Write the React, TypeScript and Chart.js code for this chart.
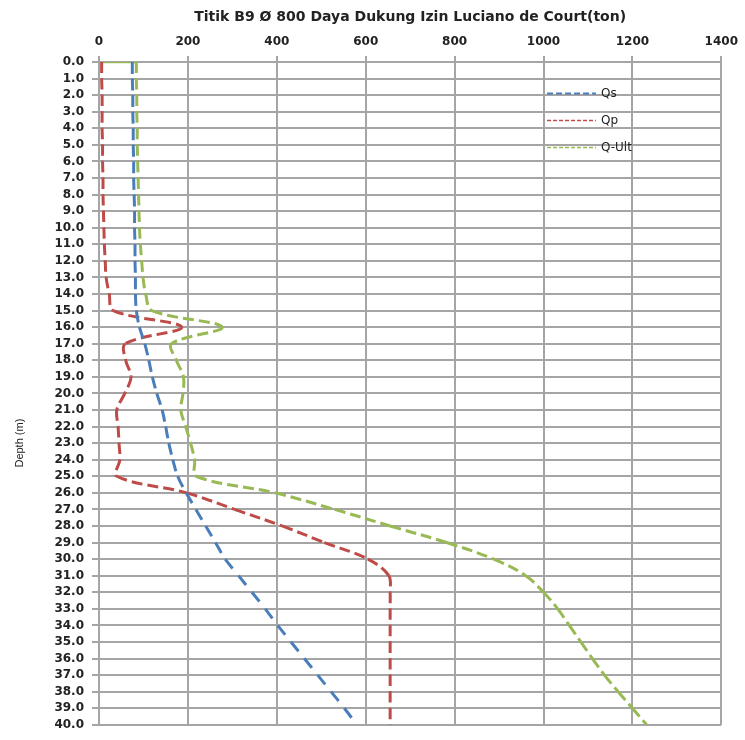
import React, { useEffect, useRef } from "react";
import { Chart, registerables } from "chart.js";

Chart.register(...registerables);

const TITLE = "Titik B9 Ø 800 Daya Dukung Izin Luciano de Court(ton)";
const Y_TITLE = "Depth (m)";

const DEPTHS = [
  0, 1, 2, 3, 4, 5, 6, 7, 8, 9, 10, 11, 12, 13, 14, 15, 16, 17, 18, 19, 20,
  21, 22, 23, 24, 25, 26, 27, 28, 29, 30, 31, 32, 33, 34, 35, 36, 37, 38, 39, 40,
];

const QS = [
  75, 75, 76, 76, 77, 77, 78, 78, 79, 80, 80, 81, 81, 82, 82, 84, 91, 103, 112, 120, 130,
  142, 150, 157, 166, 177, 196, 218, 240, 262, 284, 314, 344, 374, 402, 432, 462, 492, 522, 552, 580,
];

const QP = [
  6, 6, 7, 7, 7, 8, 8, 9, 9, 10, 11, 12, 14, 16, 23, 32, 186, 59, 60, 72, 58,
  40, 43, 45, 47, 40, 197, 305, 412, 507, 605, 652, 655, 655, 655, 655, 655, 655, 655, 655, 655,
];

const QULT = [
  84, 84, 85, 85, 86, 86, 87, 88, 89, 90, 91, 93, 96, 99, 105, 119, 277, 163, 174, 190, 189,
  184, 195, 206, 215, 219, 396, 530, 655, 782, 888, 960, 1000, 1032, 1058, 1084, 1110, 1137, 1168, 1200, 1232,
];

// short solid green segment drawn along depth 0.0
const QULT_TOP_X = [0, 84];
const QULT_TOP_DEPTH = [0, 0];

const SERIES_NAMES = ["Qs", "Qp", "Q-Ult"];
const SERIES_COLORS = ["#4A7EBB", "#BE4B48", "#98B954"];

const X_MIN = 0;
const X_MAX = 1400;
const X_STEP = 200;
const Y_MIN = 0;
const Y_MAX = 40;
const Y_STEP = 1;

const LEGEND_DEPTHS = [1.85, 3.5, 5.1];
const LEGEND_X_RANGE = [1008, 1118];

const GRID = "#a5a5a5";
const TEXT = "#222222";

function pts(xs: number[], ys: number[]) {
  return xs.map((v, i) => ({ x: v, y: ys[i] }));
}

// restart the dash pattern at every data point (as the source chart does)
const restart = (ctx: any) => (ctx.p0DataIndex % 2 ? 0.001 : 0);

const overlayPlugin = {
  id: "overlayText",
  afterDraw(chart: any) {
    const { ctx, chartArea, scales } = chart;
    const xs = scales.x;
    const ys = scales.y;
    ctx.save();
    ctx.fillStyle = TEXT;
    ctx.font = 'bold 14px "DejaVu Sans"';
    ctx.textAlign = "center";
    ctx.textBaseline = "middle";
    ctx.fillText(TITLE, (chartArea.left + chartArea.right) / 2, 17);
    ctx.restore();

    ctx.save();
    const ty = chartArea.top + (chartArea.bottom - chartArea.top) * 0.575;
    ctx.translate(20, ty);
    ctx.rotate(-Math.PI / 2);
    ctx.fillStyle = TEXT;
    ctx.font = '11px "Liberation Sans"';
    ctx.textAlign = "center";
    ctx.textBaseline = "middle";
    ctx.fillText(Y_TITLE, 0, 0);
    ctx.restore();

    ctx.save();
    const dashes = [[6, 3], [4, 2], [4, 2]];
    const widths = [2, 1.5, 1.5];
    SERIES_NAMES.forEach((name, i) => {
      const py = Math.round(ys.getPixelForValue(LEGEND_DEPTHS[i])) + 0.5;
      const x0 = xs.getPixelForValue(LEGEND_X_RANGE[0]);
      const x1 = xs.getPixelForValue(LEGEND_X_RANGE[1]);
      ctx.beginPath();
      ctx.setLineDash(dashes[i]);
      ctx.lineWidth = widths[i];
      ctx.strokeStyle = SERIES_COLORS[i];
      ctx.moveTo(x0, py);
      ctx.lineTo(x1, py);
      ctx.stroke();
      ctx.setLineDash([]);
      ctx.fillStyle = TEXT;
      ctx.font = '12px "DejaVu Sans"';
      ctx.textAlign = "left";
      ctx.textBaseline = "middle";
      ctx.fillText(name, x1 + 5, py);
    });
    ctx.restore();
  },
};

export default function App() {
  const canvasRef = useRef<HTMLCanvasElement | null>(null);

  useEffect(() => {
    if (!canvasRef.current) return;
    const tickFont = { family: "DejaVu Sans", size: 12, weight: "bold" as const };
    const chart = new Chart(canvasRef.current, {
      type: "line",
      data: {
        datasets: [
          {
            label: SERIES_NAMES[0],
            data: pts(QS, DEPTHS),
            borderColor: SERIES_COLORS[0],
            backgroundColor: SERIES_COLORS[0],
            borderWidth: 3,
            borderDash: [12, 9],
            segment: { borderDashOffset: restart },
          },
          {
            label: SERIES_NAMES[1],
            data: pts(QP, DEPTHS),
            borderColor: SERIES_COLORS[1],
            backgroundColor: SERIES_COLORS[1],
            borderWidth: 3,
            borderDash: [11, 5],
            segment: { borderDashOffset: restart },
          },
          {
            label: SERIES_NAMES[2],
            data: pts(QULT, DEPTHS),
            borderColor: SERIES_COLORS[2],
            backgroundColor: SERIES_COLORS[2],
            borderWidth: 3,
            borderDash: [11, 5],
            segment: { borderDashOffset: restart },
          },
          {
            label: "Q-Ult top",
            data: pts(QULT_TOP_X, QULT_TOP_DEPTH),
            borderColor: SERIES_COLORS[2],
            backgroundColor: SERIES_COLORS[2],
            borderWidth: 2.5,
            borderDash: [],
            tension: 0,
          },
        ],
      },
      options: {
        animation: false,
        responsive: false,
        indexAxis: "y",
        layout: { padding: { top: 0, left: 0, right: 23, bottom: 7 } },
        elements: {
          point: { radius: 0, hoverRadius: 0 },
          line: { tension: 0.35, borderCapStyle: "butt", borderJoinStyle: "round" },
        },
        plugins: {
          legend: { display: false },
          tooltip: { enabled: false },
          title: { display: false },
        },
        scales: {
          x: {
            type: "linear",
            position: "top",
            min: X_MIN,
            max: X_MAX,
            ticks: {
              stepSize: X_STEP,
              color: TEXT,
              font: tickFont,
              padding: 7,
              callback: (v: any) => String(v),
            },
            grid: { color: GRID, lineWidth: 2, tickLength: 6, drawTicks: true },
            border: { color: GRID, width: 2 },
            afterFit: (s: any) => {
              s.height = 62;
            },
          },
          y: {
            type: "linear",
            reverse: true,
            min: Y_MIN,
            max: Y_MAX,
            ticks: {
              stepSize: Y_STEP,
              autoSkip: false,
              color: TEXT,
              font: tickFont,
              padding: 8,
              callback: (v: any) => Number(v).toFixed(1),
            },
            grid: { color: GRID, lineWidth: 2, tickLength: 7, drawTicks: true },
            border: { color: GRID, width: 2 },
            afterFit: (s: any) => {
              s.width = 99;
            },
          },
        },
      },
      plugins: [overlayPlugin],
    });
    return () => chart.destroy();
  }, []);

  return (
    <div style={{ position: "fixed", left: 0, top: 0, width: 745, height: 740, background: "#fff" }}>
      <canvas ref={canvasRef} width={745} height={740} style={{ display: "block" }} />
    </div>
  );
}
